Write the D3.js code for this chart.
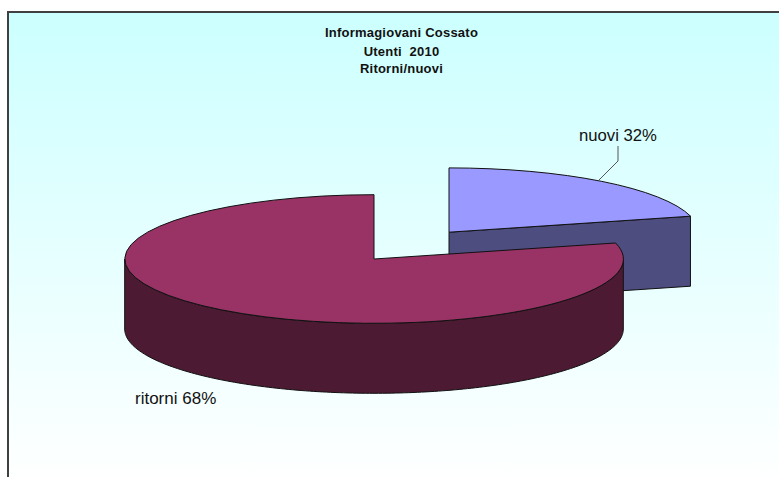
<!DOCTYPE html>
<html><head><meta charset="utf-8">
<script src="https://d3js.org/d3.v7.min.js"></script>
<style>html,body{margin:0;padding:0;background:#fff;overflow:hidden}svg{display:block}text{font-family:"Liberation Sans",Arial,sans-serif;white-space:pre;fill:#111}</style>
</head><body><script>
const titleLines = ["Informagiovani Cossato", "Utenti  2010", "Ritorni/nuovi"];
const categories = ["nuovi", "ritorni"];
const labelPercents = [32, 68];          // as printed on the chart
const drawnShares = [21, 79];            // slice sizes as actually drawn in the picture
const topColors = ["#9999ff", "#993366"];
const wallColors = ["#4d4d80", "#4d1a33"];

const W = 779, H = 477;
const svg = d3.select("body").append("svg").attr("width", W).attr("height", H);
const defs = svg.append("defs");
const g = defs.append("linearGradient").attr("id", "bg").attr("x1", 0).attr("x2", 0).attr("y1", 0).attr("y2", 1);
g.append("stop").attr("offset", 0).attr("stop-color", "#ccffff");
g.append("stop").attr("offset", 1).attr("stop-color", "#ffffff");
svg.append("rect").attr("x", 8).attr("y", 12).attr("width", W).attr("height", H - 12 + 8).attr("fill", "url(#bg)");
svg.append("path").attr("d", `M8,${H}V12H${W}`).attr("fill", "none").attr("stroke", "#404040").attr("stroke-width", 2);

const rx = 249.3, ry = 64.3, depth = 70;
const centers = [{x: 449, y: 232.2}, {x: 374, y: 259}];
const px = d3.scaleLinear().domain([-1, 1]).range([-rx, rx]);
const py = d3.scaleLinear().domain([-1, 1]).range([-ry, ry]);
const pt = (a, dy = 0) => [px(Math.sin(a)), py(-Math.cos(a)) + dy];

const arcs = d3.pie().sort(null).value(d => d)(drawnShares);
const unitArc = d3.arc().innerRadius(0).outerRadius(1);
const line = d3.line();

function group(i) { return svg.append("g").attr("transform", `translate(${centers[i].x},${centers[i].y})`); }
const stroke = {stroke: "#111", w: 1};

// nuovi: cut face, then top (drawn behind ritorni)
const g0 = group(0);
const e0 = arcs[0].endAngle;
g0.append("path").attr("d", line([[0, 0], pt(e0), pt(e0, depth), [0, depth]]) + "Z")
  .attr("fill", wallColors[0]).attr("stroke", stroke.stroke).attr("stroke-width", stroke.w);
g0.append("path").attr("transform", `scale(${rx},${ry})`).attr("d", unitArc(arcs[0]))
  .attr("fill", topColors[0]).attr("stroke", stroke.stroke).attr("stroke-width", stroke.w)
  .style("vector-effect", "non-scaling-stroke");

// ritorni: front wall, then top
const g1 = group(1);
const steps = d3.range(Math.PI / 2, 3 * Math.PI / 2 + 0.001, Math.PI / 180);
const wall = steps.map(a => pt(a)).concat(steps.slice().reverse().map(a => pt(a, depth)));
g1.append("path").attr("d", line(wall) + "Z")
  .attr("fill", wallColors[1]).attr("stroke", stroke.stroke).attr("stroke-width", stroke.w);
g1.append("path").attr("transform", `scale(${rx},${ry})`).attr("d", unitArc(arcs[1]))
  .attr("fill", topColors[1]).attr("stroke", stroke.stroke).attr("stroke-width", stroke.w)
  .style("vector-effect", "non-scaling-stroke");

// leader line
svg.append("path").attr("d", "M618,146V161L599,180").attr("fill", "none").attr("stroke", "#555").attr("stroke-width", 1);

// labels
const labelPos = [{x: 579, y: 141, s: 16.7}, {x: 135, y: 404, s: 17}];
categories.forEach((c, i) => {
  svg.append("text").attr("x", labelPos[i].x).attr("y", labelPos[i].y)
    .attr("font-size", labelPos[i].s).text(`${c} ${labelPercents[i]}%`);
});
const titleY = [37, 56, 73];
titleLines.forEach((t, i) => {
  svg.append("text").attr("x", 401.5).attr("y", titleY[i]).attr("text-anchor", "middle")
    .attr("font-size", 13).attr("letter-spacing", 0.23).attr("font-weight", "bold").text(t);
});
</script></body></html>
